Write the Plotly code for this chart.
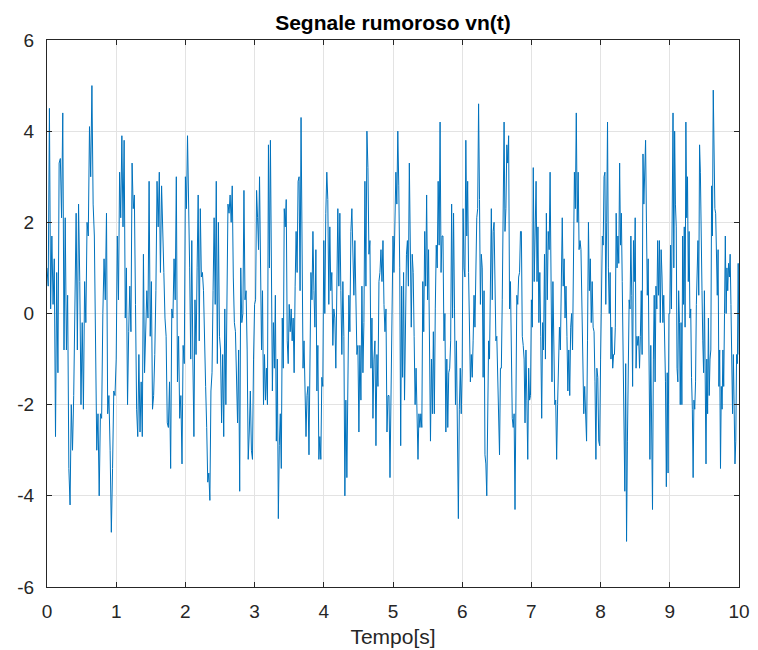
import plotly.graph_objects as go

# Signal values, one list per second of time
seg0 = [1.0, 0.6, 4.5, 0.1, 1.7, 0.2, 1.2, -2.7, 0.9, -1.3, 3.3, 3.4, 2.1, 4.4, -0.8, 2.1, -0.8, 0.4,
        -3.4, -4.2, -2.0, -3.0, -1.8, 0.0, 2.2, -0.8, 2.4, 0.7, -2.0, -0.2, -2.1, 0.7, -0.2, 2.0, 1.7,
        4.1, 3.0, 5.0, 2.4, 1.7, -1.3, -3.0, -2.2, -4.0, -2.2, -2.3, 0.0, 1.2, 0.3, 2.2, -2.2, -1.8,
        -3.0, -4.8, -3.4, -1.7, -1.8]
seg1 = [-1.0, 1.7, 0.3, 3.1, 2.1, 3.9, 1.9, 3.8, -0.1, 1.0, -2.0, -0.4, 0.6, -0.4, 3.3, 2.3, 2.6, 0.2,
        -2.1, -2.7, -0.9, -2.6, -1.5, -2.7, 1.3, -1.3, -0.2, 0.5, -0.1, 2.9, -0.5, 0.7, -2.1, -1.8,
        -0.9, 0.5, 2.9, 1.9, 3.1, 0.9, 2.8, 1.4, 0.9, -0.1, -0.5, -2.4, -2.5, -1.5, -3.4, 0.1, -0.1,
        1.2, 0.3, 3.0, -1.5, -0.5, -2.3, -1.8, -3.3, -0.7, -1.1]
seg2 = [3.0, 2.3, 3.9, 2.6, 1.0, -1.0, 1.6, -1.0, -2.7, 0.3, -0.9, 1.0, 2.6, -0.6, 2.3, 0.8, 0.9, 0.5,
        -1.1, -1.6, -2.5, -3.7, -3.5, -4.1, -1.7, -1.3, 0.5, 2.1, 0.2, 2.9, -1.1, 2.0, -0.5, -0.8,
        -2.4, -0.9, -2.7, 0.1, -2.0, 0.8, 2.4, 2.2, 2.6, 2.0, 2.8, 0.8, -0.2, -0.4, -1.2, -2.4, -0.8,
        -3.9, 1.0, -0.2, 0.0, 2.7, 0.3, 0.5, -0.8, -3.2, -2.6, -1.7, -3.0, -3.2, -1.0]
seg3 = [0.2, 0.3, 2.7, 2.1, 1.4, 3.0, 0.5, -0.8, 0.5, -2.0, -0.9, -1.9, -1.2, -2.0, 3.7, 1.0, 3.8, 1.5,
        -1.7, -0.2, -1.2, 0.4, -2.8, -1.0, -4.5, -2.9, -2.2, -3.4, -0.1, -1.2, 2.3, 1.9, 2.5, -0.6,
        -1.1, 0.2, -0.4, 0.1, -0.6, -0.1, -1.3, 0.6, 1.8, 0.9, 2.9, 3.0, 0.5, 4.3, 1.0, -1.2, -0.6,
        -1.6, -2.7, -1.8, -1.6, -3.1, -0.7, 0.9, 0.3, 1.8, 0.5, -0.3, 1.4, -1.7, -0.7, -3.2, -2.7,
        -3.2, -1.4, -1.6]
seg4 = [1.6, 0.0, 2.2, 3.1, 2.5, 0.2, 1.9, 0.5, 0.9, -0.7, 0.1, -0.1, -1.2, 0.5, 2.3, 0.6, 2.2, 0.5,
        -0.9, 0.7, -0.5, -4.0, -1.9, -3.6, -0.8, 0.4, -0.4, 1.8, 2.3, 1.5, 0.4, 1.6, 0.2, -0.9, -0.7,
        -2.6, -0.7, -1.9, 0.6, -1.3, -0.2, 2.9, 0.6, 4.0, 3.2, 1.3, 1.6, -1.2, -0.1, -2.3, -1.0, -0.6,
        -2.9, -0.9, -1.6, 0.7, 0.9, 1.4, 0.7, 1.6, 0.2, -0.4, 0.1, -2.6, -1.8, -1.8, -3.6, -1.8, -0.5]
seg5 = [1.7, 0.9, 2.4, 3.1, 2.4, 4.0, 2.8, 1.0, -2.9, 0.6, -1.4, 0.9, -1.9, 0.5, 1.3, 1.6, 0.6, 3.3,
        1.5, -0.3, 1.3, 0.9, -0.5, -2.0, -1.2, -2.5, -3.2, -2.2, -2.5, -2.2, -2.5, 0.7, -0.4, 1.8, 0.6,
        2.6, 0.3, 1.4, -0.5, -2.8, -1.0, -2.2, -0.4, -2.2, 0.1, 1.5, 1.0, 2.9, 1.5, 4.2, 0.9, 1.7, 1.7,
        -0.6, 0.0, -2.6, -1.0, -2.5, -1.3, -1.2, -0.6, 2.4, -0.1, 2.2, 0.1, -2.0, -0.6, -2.0, -4.5,
        -2.1, -1.2, -2.2]
seg6 = [-1.2, 2.3, 1.0, 0.8, 3.8, 1.7, 2.9, 0.9, -0.8, -1.5, -0.9, -1.4, -0.6, 0.4, -0.3, 1.1, 2.1,
        2.3, 4.6, 2.5, 0.2, 1.3, 1.0, -1.4, 0.5, -3.1, -3.3, -4.0, -2.0, -0.6, -1.0, 0.5, 2.3, 0.3, 1.8,
        2.0, -0.1, -0.6, -0.5, -1.5, -2.5, -3.1, -1.2, -1.2, 0.3, 2.0, 4.2, 1.8, 2.3, 3.7, 3.3, 3.9,
        0.1, 0.7, -1.0, -2.3, -2.5, -2.2, -4.3, -1.3, 0.4, 0.2, 0.8, 0.9, 1.8, 1.8, -0.5, -0.7, -1.0,
        -2.4, -0.8, -1.9, -3.2, -1.2, -1.9, -1.8]
seg7 = [0.3, -0.3, 3.2, 0.7, 1.5, 2.9, 0.7, 1.9, -0.2, 0.9, -0.5, -2.3, -0.2, -0.8, 1.3, -1.0, 2.2,
        0.3, 1.8, 1.4, 3.1, 0.5, -1.5, 0.7, -0.9, -2.0, -1.9, -3.2, -2.0, -0.9, -0.3, -0.8, 0.9, 2.1,
        0.6, 1.2, -0.1, 0.6, -0.5, -1.7, -0.8, -1.8, -0.3, 0.0, -0.8, 1.0, 3.1, 2.3, 4.4, 2.0, 3.1, 1.4,
        1.6, 1.4, -0.2, -0.9, -2.2, -1.6, -2.2, -2.8, -0.6, 2.0, 0.5, 1.2, -0.2, 0.7, -0.3, -0.4, -1.5,
        -3.2, -1.2, -1.4, -2.8, -2.9]
seg8 = [-1.0, 0.0, 1.7, 1.5, 3.0, 3.1, 0.2, 2.0, 4.2, 1.0, 0.0, 0.9, -1.0, -0.3, -1.2, -0.9, -0.9,
        -0.3, 2.2, 1.0, 1.7, 1.1, 3.3, 1.5, 2.2, 0.7, -1.0, -2.5, -3.9, -1.1, -5.0, -2.8, -1.2, 0.3,
        0.1, 1.7, 0.4, -1.6, 1.6, 0.7, 2.1, -1.2, -0.5, -0.7, -0.5, -1.2, -0.5, 0.5, -0.9, 3.5, 2.4,
        2.9, 3.8, 2.0, 0.4, 1.2, -0.5, -3.2, -0.7, -2.0, -4.3, -1.0, 0.4, -1.5, 0.6, 0.1, 1.6, 0.4, 1.6,
        -0.2, 1.4, 0.8, -0.2, 0.4, -0.4, -1.5, -3.8, -1.3, -3.5, 0.0]
seg9 = [0.0, 1.5, 0.1, 2.5, 4.4, 1.0, 4.0, 2.4, 1.9, -1.2, -1.5, 0.5, -0.2, -2.0, -0.2, -2.0, 1.7, 0.2,
        1.9, -0.3, 4.2, 2.1, 3.0, 0.7, 1.8, -0.1, 0.1, -1.4, -2.1, -3.6, -1.9, -2.1, -1.5, 0.2, 0.9,
        1.6, 0.4, 3.7, 3.1, 1.1, 0.5, -0.6, -1.3, 0.5, -1.3, -3.3, -1.0, -2.2, -0.1, -1.8, -1.0, -0.8,
        2.8, 1.7, 4.9, 3.0, 2.3, 2.2, 1.5, 0.4, 1.4, -1.6, -0.8, -3.4, -1.6, -2.1, -0.8, -1.6, 0.0, 1.7,
        0.0, 1.0, 0.5, 1.1, 0.8, 1.3, 0.2, -1.0, -2.2, -0.9, -2.0, -3.3, -2.8, -0.9, -1.1, 1.1, -0.9]

segments = [seg0, seg1, seg2, seg3, seg4, seg5, seg6, seg7, seg8, seg9]
x_ticks = [0, 1, 2, 3, 4, 5, 6, 7, 8, 9, 10]
y_ticks = [-6, -4, -2, 0, 2, 4, 6]
title_text = "Segnale rumoroso vn(t)"
x_label = "Tempo[s]"

t, v = [], []
for k, seg in enumerate(segments):
    n = len(seg)
    last = k == len(segments) - 1
    for j, val in enumerate(seg):
        t.append(k + (j / (n - 1) if last else j / n))
        v.append(val)

fig = go.Figure(go.Scatter(x=t, y=v, mode="lines",
                           line=dict(color="#0072BD", width=1), hoverinfo="skip"))

axis_common = dict(showline=True, linecolor="#262626", linewidth=1.3, mirror="ticks",
                   ticks="inside", ticklen=5, tickwidth=1, tickcolor="#262626",
                   showgrid=True, gridcolor="#e3e3e3", gridwidth=1, zeroline=False,
                   automargin=False,
                   tickfont=dict(family="Liberation Sans, Arial", size=19, color="#262626"))

fig.update_layout(
    width=758, height=650,
    margin=dict(l=39, r=27, t=32, b=71),
    paper_bgcolor="white", plot_bgcolor="white",
    showlegend=False,
    title=dict(text="<b>" + title_text + "</b>", x=0.5, xref="paper", xanchor="center",
               y=1, yref="paper", yanchor="bottom", pad=dict(b=10),
               font=dict(family="Liberation Sans, Arial", size=21, color="#000000")),
    xaxis=dict(range=[0, 10], tickvals=x_ticks, ticktext=[str(x) for x in x_ticks],
               ticklabelstandoff=7,
               title=dict(text=x_label, standoff=8,
                          font=dict(family="Liberation Sans, Arial", size=21, color="#262626")),
               **axis_common),
    yaxis=dict(range=[-6, 6], tickvals=y_ticks, ticktext=[str(y) for y in y_ticks],
               ticklabelstandoff=8,
               **axis_common),
)

fig.write_html("out.html")
